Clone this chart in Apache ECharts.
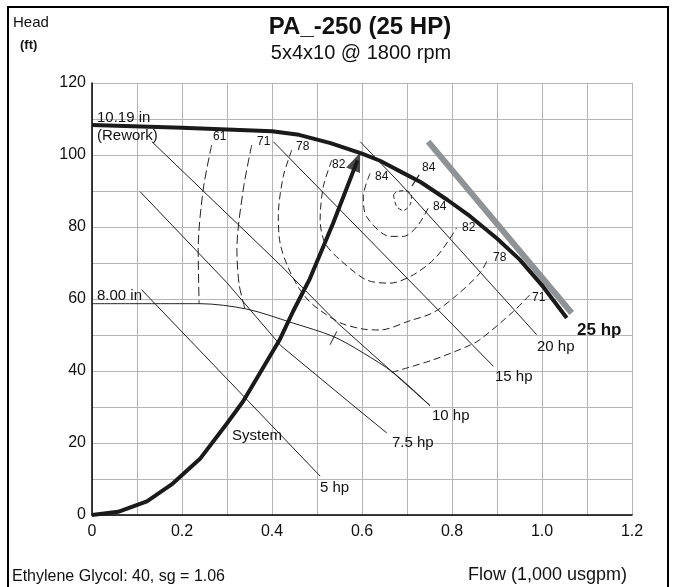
<!DOCTYPE html>
<html>
<head>
<meta charset="utf-8">
<script src="https://cdn.jsdelivr.net/npm/echarts@6/dist/echarts.min.js"></script>
<style>
	html, body {margin: 0; padding: 0; background: #fff;}
	#chartDiv {width: 676px; height: 587px;}
</style>
</head>
<body>
<div id="chartDiv"></div>
<script>
// 数据 (flow in 1,000 usgpm, head in ft)
let xTicks = [0, 0.2, 0.4, 0.6, 0.8, 1.0, 1.2];
let yTicks = [0, 20, 40, 60, 80, 100, 120];

let impeller1019 = [[0, 108.3], [0.2, 107.6], [0.4, 106.6], [0.46, 105.6], [0.53, 103.3], [0.6, 100.4],
	[0.64, 98.4], [0.69, 95.1], [0.73, 92.5], [0.79, 87.5], [0.84, 83], [0.9, 76.8], [0.95, 71],
	[1.0, 63.8], [1.055, 54.7]];
let impeller800 = [[0, 58.7], [0.24, 58.7], [0.344, 57.2], [0.447, 53.3], [0.536, 49.6], [0.603, 45],
	[0.67, 39.5], [0.751, 30.4]];
let systemCurve = [[0, 0], [0.058, 0.9], [0.122, 3.8], [0.177, 8.5], [0.24, 15.6], [0.299, 25.3],
	[0.336, 31.6], [0.418, 48.9], [0.447, 56.6], [0.484, 65.6], [0.536, 81.1], [0.59, 98.5]];
let systemArrow = [0.588, 98.2];
let grayLine = [[0.747, 103.7], [1.066, 56.1]];

let hp5 = [[0.11, 62.6], [0.507, 10.8]];
let hp75 = [[0.107, 89.8], [0.3, 64.5], [0.42, 47], [0.6, 28.4], [0.655, 22.8]];
let hp10 = [[0.133, 103.7], [0.418, 69.5], [0.544, 53.5], [0.751, 30.4]];
let hp15 = [[0.403, 103.7], [0.892, 41.3]];
let hp20 = [[0.596, 103.7], [0.684, 92.2], [0.988, 50.1]];

let eff61 = [[0.266, 102.8], [0.247, 90.3], [0.236, 73.7], [0.238, 58.7]];
let eff71a = [[0.355, 102.8], [0.336, 90.3], [0.322, 73.7], [0.327, 64], [0.34, 57.3]];
let eff71b = [[0.666, 39.6], [0.758, 43.1], [0.833, 46.8], [0.862, 48.7], [0.936, 56.5], [0.977, 61.7]];
let eff78 = [[0.444, 101.4], [0.425, 94], [0.414, 83], [0.418, 75.5], [0.435, 69], [0.46, 63],
	[0.49, 58.5], [0.55, 53.5], [0.6, 51.7], [0.64, 51.4], [0.707, 54], [0.758, 56.2], [0.81, 61],
	[0.862, 67.2], [0.881, 71.4]];
let eff82 = [[0.533, 98.6], [0.514, 91.2], [0.507, 82], [0.518, 75.5], [0.551, 70.9], [0.61, 65.3],
	[0.662, 64.4], [0.714, 66.7], [0.766, 71.8], [0.81, 79.7]];
let eff84 = [[0.618, 94.9], [0.603, 88.5], [0.61, 82.9], [0.662, 77.4], [0.692, 77.4], [0.722, 80.1],
	[0.747, 85.2]];
let eff84inner = [[0.67, 88.9], [0.677, 85.7], [0.692, 84.6], [0.707, 86.2], [0.71, 88.9], [0.696, 90.1],
	[0.677, 89.8], [0.67, 88.9]];

let tick1019 = [[0.711, 91.4], [0.727, 94.5]];
let tick800 = [[0.529, 47.3], [0.544, 51]];

// 文字标注: [text, left, middle]
let curveLabels = [['10.19 in', 97, 118], ['(Rework)', 97, 136], ['8.00 in', 97, 296], ['System', 232, 436],
	['5 hp', 320, 488], ['7.5 hp', 392, 443], ['10 hp', 432, 416], ['15 hp', 495, 377], ['20 hp', 537, 347]];
let effLabels = [['61', 213, 137], ['71', 257, 142], ['78', 296, 147], ['82', 332, 165], ['84', 375, 177],
	['84', 422, 168], ['84', 433, 207], ['82', 462, 228], ['78', 493, 258], ['71', 532, 298]];

let font = 'Liberation Sans, Arial, sans-serif';

let myChart = echarts.init(document.getElementById('chartDiv'), null, {renderer: 'canvas'});

function lineSerie(data, width, color, type, z, smooth) {
	return {
		type: 'line',
		data: data,
		showSymbol: false,
		symbol: 'none',
		silent: true,
		smooth: smooth || false,
		z: z || 2,
		lineStyle: {width: width, color: color, type: type || 'solid', cap: 'butt', join: 'round'}
	};
}

let dash = [7, 4];
let series = [
	lineSerie(eff61, 1, '#222', [9, 4], 2, 0.3),
	lineSerie(eff71a, 1, '#222', [9, 4], 2, 0.3),
	lineSerie(eff71b, 1, '#222', dash, 2, 0.3),
	lineSerie(eff78, 1, '#222', dash, 2, 0.3),
	lineSerie(eff82, 1, '#222', dash, 2, 0.3),
	lineSerie(eff84, 1, '#222', dash, 2, 0.3),
	lineSerie(eff84inner, 1, '#222', [4, 3], 2, 0.3),
	lineSerie(hp5, 1, '#222'),
	lineSerie(hp75, 1, '#222'),
	lineSerie(hp10, 1, '#222'),
	lineSerie(hp15, 1, '#222'),
	lineSerie(hp20, 1, '#222'),
	lineSerie(impeller800, 1, '#222', 'solid', 2, 0.3),
	lineSerie(tick800, 1, '#222'),
	lineSerie(tick1019, 1.2, '#222'),
	lineSerie(grayLine, 6, '#8d9397', 'solid', 3),
	lineSerie(impeller1019, 4, '#1a1a1a', 'solid', 4),
	lineSerie(systemCurve, 4, '#1a1a1a', 'solid', 4),
	{
		type: 'scatter',
		data: [systemArrow],
		symbol: 'triangle',
		symbolSize: [15, 19],
		symbolRotate: -22,
		silent: true,
		z: 5,
		itemStyle: {color: '#1a1a1a'}
	}
];

let graphic = [
	{type: 'rect', shape: {x: 8, y: 7, width: 660, height: 600}, style: {fill: null, stroke: '#000', lineWidth: 2}, z: 100},
	{type: 'text', left: 13, top: 15, style: {text: 'Head', font: '15px ' + font, fill: '#111'}},
	{type: 'text', left: 20, top: 39, style: {text: '(ft)', font: 'bold 13px ' + font, fill: '#111'}},
	{type: 'text', x: 360, y: 27, style: {text: 'PA_-250 (25 HP)', font: 'bold 24px ' + font, fill: '#111', align: 'center', verticalAlign: 'middle'}},
	{type: 'text', x: 361, y: 53, style: {text: '5x4x10 @ 1800 rpm', font: '20px ' + font, fill: '#111', align: 'center', verticalAlign: 'middle'}},
	{type: 'text', x: 12, y: 577, style: {text: 'Ethylene Glycol: 40, sg = 1.06', font: '16px ' + font, fill: '#111', verticalAlign: 'middle'}},
	{type: 'text', x: 468, y: 575, style: {text: 'Flow (1,000 usgpm)', font: '18px ' + font, fill: '#111', verticalAlign: 'middle'}},
	{type: 'text', x: 577, y: 330, z: 10, style: {text: '25 hp', font: 'bold 17px ' + font, fill: '#111', verticalAlign: 'middle'}}
];
curveLabels.forEach(function (l) {
	graphic.push({type: 'text', x: l[1], y: l[2], z: 10,
		style: {text: l[0], font: '15px ' + font, fill: '#111', verticalAlign: 'middle'}});
});
effLabels.forEach(function (l) {
	graphic.push({type: 'text', x: l[1], y: l[2], z: 10,
		style: {text: l[0], font: '12px ' + font, fill: '#111', verticalAlign: 'middle'}});
});

let gridLine = {show: true, lineStyle: {color: '#b5b5b5', width: 1}};

let option = {
	backgroundColor: '#fff',
	animation: false,
	grid: {left: 92, right: 44, top: 83, bottom: 72},
	xAxis: {
		type: 'value',
		min: xTicks[0],
		max: xTicks[xTicks.length - 1],
		interval: 0.2,
		axisLine: {show: true, onZero: false, lineStyle: {color: '#000', width: 1.5}},
		axisTick: {show: false},
		minorTick: {show: false, splitNumber: 2},
		splitLine: gridLine,
		minorSplitLine: gridLine,
		axisLabel: {
			margin: 9,
			color: '#111',
			fontSize: 16,
			fontFamily: font,
			formatter: function (v) { return v === 0 ? '0' : v.toFixed(1); }
		}
	},
	yAxis: {
		type: 'value',
		min: yTicks[0],
		max: yTicks[yTicks.length - 1],
		interval: 20,
		axisLine: {show: true, onZero: false, lineStyle: {color: '#000', width: 1.5}},
		axisTick: {show: false},
		minorTick: {show: false, splitNumber: 2},
		splitLine: gridLine,
		minorSplitLine: gridLine,
		axisLabel: {margin: 6, color: '#111', fontSize: 16, fontFamily: font}
	},
	series: series,
	graphic: graphic
};

myChart.setOption(option);
</script>
</body>
</html>
